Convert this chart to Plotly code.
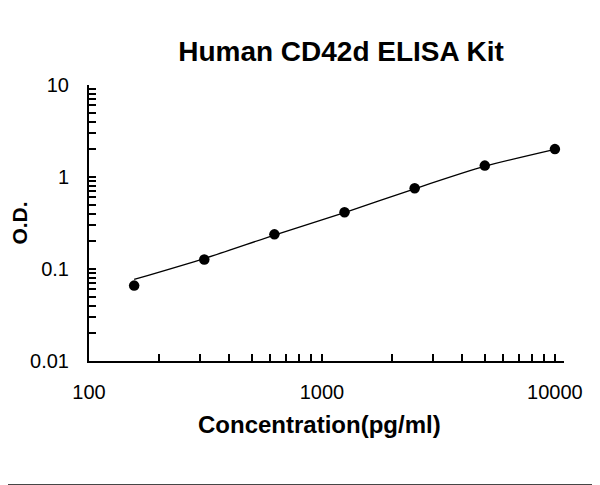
import plotly.graph_objects as go

# Data
concentration = [156.25, 312.5, 625, 1250, 2500, 5000, 10000]
od_values = [0.066, 0.127, 0.238, 0.413, 0.753, 1.33, 2.01]

# Fitted curve
curve_x = [156.25, 312.5, 625, 1250, 2500, 5000, 10000]
curve_y = [0.077, 0.130, 0.234, 0.410, 0.745, 1.31, 2.0]

x_tick_vals = [100, 1000, 10000]
x_tick_text = ["100", "1000", "10000"]
y_tick_vals = [0.01, 0.1, 1, 10]
y_tick_text = ["0.01", "0.1", "1", "10"]

title_text = "Human CD42d ELISA Kit"
x_title = "Concentration(pg/ml)"
y_title = "O.D."

FONT = "Liberation Sans, Arial, sans-serif"

# The page body has an 8px default margin; the figure is sized to compensate.
OFF = 8
W, H = 600 - OFF, 485 - OFF
L, R, T, B = 89 - OFF, 36, 85 - OFF, 124
PW, PH = W - L - R, H - T - B

fig = go.Figure()
fig.add_trace(go.Scatter(
    x=curve_x, y=curve_y, mode="lines",
    line=dict(color="black", width=1.3, shape="spline", smoothing=0.6),
    hoverinfo="skip", showlegend=False,
))
fig.add_trace(go.Scatter(
    x=concentration, y=od_values, mode="markers",
    marker=dict(color="black", size=10.5),
    showlegend=False,
))

x_minor = [m * d for d in (100, 1000) for m in range(2, 10)]
y_minor = [m * d for d in (0.01, 0.1, 1) for m in range(2, 10)]

fig.update_layout(
    width=W, height=H,
    margin=dict(l=L, r=R, t=T, b=B, autoexpand=False),
    paper_bgcolor="white", plot_bgcolor="white",
    font=dict(family=FONT, color="black"),
    title=dict(
        text="<b>" + title_text + "</b>",
        font=dict(family=FONT, size=28, color="black"),
        x=(341 - OFF) / W, xanchor="center",
        y=1 - (51 - OFF) / H, yanchor="middle",
    ),
    xaxis=dict(
        type="log", range=[2, 4.039], automargin=False,
        showgrid=False, zeroline=False,
        showline=True, linecolor="black", linewidth=2,
        ticks="inside", ticklen=7, tickwidth=2, tickcolor="black",
        tickvals=x_tick_vals, ticktext=x_tick_text,
        tickfont=dict(family=FONT, size=20, color="black"),
        ticklabelstandoff=12,
        minor=dict(ticks="inside", ticklen=7, tickwidth=2, tickcolor="black",
                   tickvals=x_minor, showgrid=False),
    ),
    yaxis=dict(
        type="log", range=[-2, 1], automargin=False,
        showgrid=False, zeroline=False,
        showline=True, linecolor="black", linewidth=2,
        ticks="inside", ticklen=7, tickwidth=2, tickcolor="black",
        tickvals=y_tick_vals, ticktext=y_tick_text,
        tickfont=dict(family=FONT, size=20, color="black"),
        ticklabelstandoff=14,
        minor=dict(ticks="inside", ticklen=7, tickwidth=2, tickcolor="black",
                   tickvals=y_minor, showgrid=False),
        title=dict(text="<b>" + y_title + "</b>",
                   font=dict(family=FONT, size=21, color="black"),
                   standoff=21),
    ),
    annotations=[
        dict(text="<b>" + x_title + "</b>", xref="paper", yref="paper",
             x=(319.5 - OFF - L) / PW, y=(T + PH - (424 - OFF)) / PH,
             xanchor="center", yanchor="middle", showarrow=False,
             font=dict(family=FONT, size=24, color="black")),
    ],
    shapes=[
        dict(type="line", xref="paper", yref="paper",
             x0=(591.5 - L) / PW, x1=(591.5 - L) / PW,
             y0=(T + PH - 477) / PH, y1=(T + PH) / PH,
             line=dict(color="#333", width=1)),
        dict(type="line", xref="paper", yref="paper",
             x0=-L / PW, x1=(W - L) / PW,
             y0=(T + PH - 476.6) / PH, y1=(T + PH - 476.6) / PH,
             line=dict(color="#333", width=1)),
    ],
)

fig.write_html("out.html")
